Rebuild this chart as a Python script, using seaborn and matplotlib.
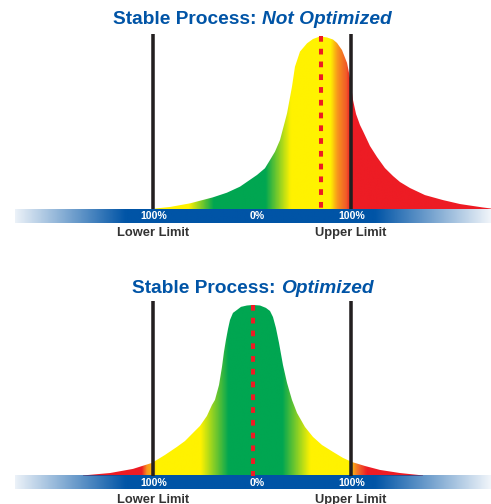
"""Two stable-process bell curves against lower/upper spec limits.

Top: process mean shifted toward the upper limit (not optimized).
Bottom: process centred between the limits (optimized).
"""
import matplotlib
matplotlib.use("Agg")
import matplotlib.pyplot as plt
from matplotlib.colors import LinearSegmentedColormap, to_rgb
from matplotlib.patches import Polygon
import numpy as np
import seaborn as sns

sns.set_style("white")
plt.rcParams["font.family"] = ["Liberation Sans", "DejaVu Sans"]

# -------- Data (x: % of distance from centre to a limit, y: relative frequency) --------
top_x = [-98.0, -82.8, -62.6, -39.4, -25.3, -12.1, 5.1, 13.1, 18.2, 23.2, 28.3,
         32.3, 35.4, 40.4, 43.4, 48.5, 55.6, 61.6, 68.7, 75.8, 81.8, 85.9, 90.9,
         96.0, 99.0, 102.0, 105.1, 109.1, 112.1, 119.2, 126.3, 134.3, 142.4,
         149.5, 159.6, 174.7, 192.9, 210.1, 233.3, 241.4]
top_y = [0.3, 1.2, 3.3, 6.8, 9.5, 13.0, 19.8, 23.7, 28.5, 33.3, 40.1,
         48.8, 55.6, 71.1, 82.7, 91.5, 96.3, 98.8, 100.3, 99.7, 98.5, 96.5, 92.4,
         84.9, 76.2, 63.4, 55.2, 48.8, 45.3, 36.6, 30.2, 23.8, 19.2,
         15.7, 12.2, 8.1, 5.2, 2.9, 0.9, 0.3]
top_mean = 70.0

bot_x = [-170.7, -143.4, -120.2, -101.0, -87.9, -75.8, -67.7, -59.6, -52.5, -45.5,
         -40.4, -37.4, -33.3, -30.3, -28.3, -26.3, -24.2, -22.2, -19.2, -15.2,
         -11.1, -5.1, 1.0, 8.1, 14.1, 18.2, 21.2, 24.2, 27.3, 31.3, 35.4, 40.4,
         45.5, 53.5, 61.6, 70.7, 81.8, 91.9, 101.0, 114.1, 129.3, 149.5, 172.7]
bot_y = [0.3, 1.7, 4.1, 7.6, 12.2, 16.9, 20.3, 25.0, 29.1, 34.9,
         41.3, 44.2, 52.9, 63.4, 72.1, 79.1, 85.5, 90.7, 94.8, 96.5,
         98.3, 99.1, 99.4, 99.1, 97.7, 95.9, 92.4, 86.0, 77.3, 64.5, 54.1, 44.2,
         36.6, 28.5, 22.7, 18.0, 14.0, 10.5, 8.1, 5.8, 3.5, 1.7, 0.3]
bot_mean = 1.2

# colour zones along x (position, colour)
top_stops_x = [-98.0, -64.6, -39.4, 13.1, 38.4, 78.8, 85.9, 94.9, 99.0, 241.4]
top_stops_c = ["#fff200", "#fff200", "#00a651", "#00a651", "#fff200", "#fff200",
               "#f7941d", "#f15a29", "#ed1c24", "#ed1c24"]
bot_stops_x = [-170.7, -112.0, -107.0, -101.0, -97.0, -52.5, -24.2, 30.3, 58.6,
               99.0, 103.0, 109.0, 116.0, 172.7]
bot_stops_c = ["#ed1c24", "#ed1c24", "#f7941d", "#fdb913", "#fff200", "#fff200",
               "#00a651", "#00a651", "#fff200", "#fff200", "#f7941d", "#f15a29",
               "#ed1c24", "#ed1c24"]

limits = [-100, 100]
limit_names = ["Lower Limit", "Upper Limit"]
pct_pos = [-99, 5, 101]
pct_labels = ["100%", "0%", "100%"]

# bar fade (position, opacity)
bar_fade_x = [-239.4, -128.0, 124.0, 241.4]
bar_fade_a = [0.08, 1.0, 1.0, 0.05]

BLUE = "#0054a6"
DARK = "#231f20"
RED = "#ed1c24"
LABEL = "#333333"
BAR_H = 7.85


def gradient_curve(ax, xs, ys, stops_x, stops_c):
    xs = np.asarray(xs)
    ys = np.asarray(ys)
    lo, hi = xs.min(), xs.max()
    pos = [(s - lo) / (hi - lo) for s in stops_x]
    cmap = LinearSegmentedColormap.from_list("zones", list(zip(pos, stops_c)))
    img = np.linspace(0, 1, 1200)[None, :]
    im = ax.imshow(img, cmap=cmap, extent=[lo, hi, 0, ys.max() + 1], aspect="auto",
                   origin="lower", interpolation="bilinear", zorder=1)
    verts = np.column_stack([np.r_[xs, xs[-1], xs[0]], np.r_[ys, 0, 0]])
    poly = Polygon(verts, closed=True, facecolor="none", edgecolor="none")
    ax.add_patch(poly)
    im.set_clip_path(poly)


def scale_bar(ax):
    cols = np.linspace(bar_fade_x[0], bar_fade_x[-1], 800)
    rgba = np.zeros((1, cols.size, 4))
    rgba[..., :3] = to_rgb(BLUE)
    rgba[0, :, 3] = np.interp(cols, bar_fade_x, bar_fade_a)
    ax.imshow(rgba, extent=[bar_fade_x[0], bar_fade_x[-1], -BAR_H, 0], aspect="auto",
              interpolation="bilinear", zorder=2)
    for p, lab in zip(pct_pos, pct_labels):
        ax.text(p, -BAR_H / 2, lab, ha="center", va="center", color="white",
                fontsize=7.6, fontweight="bold", zorder=4)
    for p, lab in zip(limits, limit_names):
        ax.text(p, -13.8, lab, ha="center", va="center", color=LABEL,
                fontsize=9.3, fontweight="bold", zorder=4)


def panel(ax, xs, ys, stops_x, stops_c, mean, ylo):
    gradient_curve(ax, xs, ys, stops_x, stops_c)
    ax.vlines(limits, 0, 101.7, color=DARK, linewidth=2.55, zorder=3)
    sns.lineplot(x=[mean, mean], y=[max(ys), 0], ax=ax, color=RED, linewidth=2.9,
                 sort=False, zorder=3, estimator=None)
    ax.lines[-1].set_dashes((1.42, 1.75))
    ax.lines[-1].set_dash_capstyle("butt")
    scale_bar(ax)
    ax.set_xlim(-254.5, 241.4)
    ax.set_ylim(ylo, 105.2)
    ax.axis("off")


fig = plt.figure(figsize=(4.91, 5.04), dpi=100)
ax_top = fig.add_axes([0, 1 - 245 / 504, 1, 217 / 504])
ax_bot = fig.add_axes([0, 0, 1, 209 / 504])

panel(ax_top, top_x, top_y, top_stops_x, top_stops_c, top_mean, -20.9)
panel(ax_bot, bot_x, bot_y, bot_stops_x, bot_stops_c, bot_mean, -16.3)


def title(plain, emph, baseline_px, centre_px=252.5):
    kw = dict(color=BLUE, fontsize=13.8, fontweight="bold", va="baseline")
    t1 = fig.text(0, 1 - baseline_px / 504, plain, **kw)
    t2 = fig.text(0, 1 - baseline_px / 504, emph, style="italic", **kw)
    fig.canvas.draw()
    r = fig.canvas.get_renderer()
    w1 = t1.get_window_extent(r).width
    w2 = t2.get_window_extent(r).width
    x0 = centre_px - (w1 + w2) / 2
    t1.set_x(x0 / 491)
    t2.set_x((x0 + w1) / 491)


title("Stable Process: ", "Not Optimized", 24)
title("Stable Process: ", "Optimized", 293)

fig.savefig("out.png", dpi=100, facecolor="white")
